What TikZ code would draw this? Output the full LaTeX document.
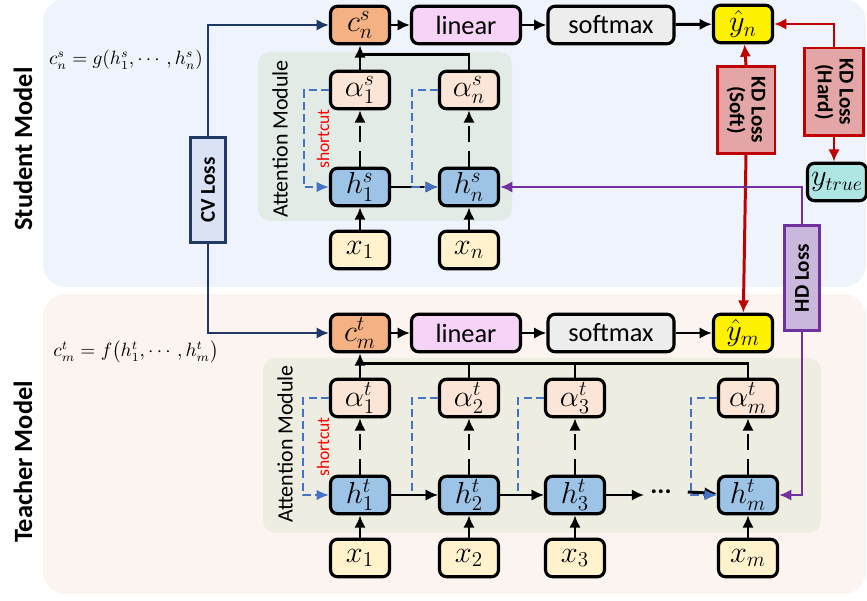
\documentclass[tikz,border=0pt]{standalone}
\usepackage{amssymb,amsmath}
\usepackage{fontspec}
\setmainfont{Carlito}
\usepackage{xcolor}
\usetikzlibrary{arrows.meta,positioning,calc}

\definecolor{stubg}{HTML}{EFF3FB}
\definecolor{teabg}{HTML}{FBF4F0}
\definecolor{attstu}{HTML}{E3EBE6}
\definecolor{atttea}{HTML}{EEEDE1}
\definecolor{cfill}{HTML}{F4B183}
\definecolor{linfill}{HTML}{F7D3F7}
\definecolor{softfill}{HTML}{EDEDED}
\definecolor{afill}{HTML}{FBE5D6}
\definecolor{hfill}{HTML}{9DC3E6}
\definecolor{xfill}{HTML}{FFF2CC}
\definecolor{truefill}{HTML}{AEE6E4}
\definecolor{cvfill}{HTML}{DAE3F3}
\definecolor{cvline}{HTML}{203864}
\definecolor{kdfill}{HTML}{E3A5A5}
\definecolor{kdline}{HTML}{C00000}
\definecolor{hdfill}{HTML}{C9B8DC}
\definecolor{hdline}{HTML}{7030A0}
\definecolor{scut}{HTML}{4472C4}

\tikzset{
  box/.style={draw=black, line width=1.8pt, rounded corners=4pt, inner sep=0pt,
    minimum width=1.18cm, minimum height=0.75cm, font=\fontsize{15}{17}\selectfont},
  mbox/.style={box, font=\fontsize{18}{20}\selectfont},
  lossbox/.style={line width=1.7pt, inner sep=0pt, align=center,
    font=\fontsize{12}{12.5}\selectfont\bfseries},
  arr/.style={line width=1.7pt, -{Latex[length=7pt,width=6.5pt]}},
  darr/.style={arr, dash pattern=on 9pt off 5pt},
  sarr/.style={scut, line width=1.1pt, dash pattern=on 4.5pt off 2.5pt, -{Latex[length=7pt,width=6pt]}},
  lbl/.style={font=\fontsize{12.5}{13}\selectfont, rotate=90},
}

\begin{document}
\begin{tikzpicture}[x=0.02cm, y=-0.02cm]
\useasboundingbox (0,0) rectangle (867,601);

% panels
\fill[stubg, rounded corners=0.45cm] (43,-1) rectangle (866,287);
\fill[teabg, rounded corners=0.45cm] (43,294) rectangle (866,594);
\fill[attstu, rounded corners=0.25cm] (258,52) rectangle (512,221);
\fill[atttea, rounded corners=0.25cm] (263,358) rectangle (821,533);

\node[rotate=90, font=\fontsize{15}{17}\selectfont\bfseries] (stu) at (23,149) {Student Model};
\node[rotate=90, font=\fontsize{15}{17}\selectfont\bfseries] (tea) at (23,462) {Teacher Model};
\node[font=\fontsize{10.5}{12}\selectfont] (fs) at (126,60) {$c_n^s = g(h_1^s,\cdots,h_n^s)$};
\node[font=\fontsize{10.5}{12}\selectfont] (ft) at (136,352) {$c_m^t = f\bigl(h_1^t,\cdots,h_m^t\bigr)$};
\node[lbl] (atts) at (280,139) {Attention Module};
\node[lbl] (attt) at (285,444) {Attention Module};
\node[lbl, red, font=\fontsize{10}{11}\selectfont] (shs) at (323,139) {shortcut};
\node[lbl, red, font=\fontsize{10}{11}\selectfont] (sht) at (323,447) {shortcut};

% student model
\node[mbox, fill=cfill] (cs) at (360,25) {$c_n^s$};
\node[box, fill=linfill, minimum width=2.18cm] (lins) at (466,25) {linear};
\node[box, fill=softfill, minimum width=2.52cm] (sms) at (611,25) {softmax};
\node[mbox, fill=yellow] (yn) at (743,24) {$\hat{y}_n$};
\node[mbox, fill=afill] (as1) at (360,90) {$\alpha_1^s$};
\node[mbox, fill=afill] (asn) at (469,90) {$\alpha_n^s$};
\node[mbox, fill=hfill] (hs1) at (360,187) {$h_1^s$};
\node[mbox, fill=hfill] (hsn) at (469,187) {$h_n^s$};
\node[mbox, fill=xfill] (xs1) at (360,250) {$x_1$};
\node[mbox, fill=xfill] (xsn) at (469,250) {$x_n$};
\node[box, fill=truefill, font=\fontsize{16}{18}\selectfont] (ytrue) at (837,182) {$y_{true}$};

% teacher model
\node[mbox, fill=cfill] (ct) at (360,333) {$c_m^t$};
\node[box, fill=linfill, minimum width=2.18cm] (lint) at (466,333) {linear};
\node[box, fill=softfill, minimum width=2.52cm] (smt) at (611,333) {softmax};
\node[mbox, fill=yellow] (ym) at (743,333) {$\hat{y}_m$};
\foreach \n/\x/\s in {1/360/1, 2/469/2, 3/575/3, m/748/m}
{
\node[mbox, fill=afill] (at\n) at (\x,398) {$\alpha_\s^t$};
\node[mbox, fill=hfill] (ht\n) at (\x,495) {$h_\s^t$};
\node[mbox, fill=xfill] (xt\n) at (\x,558) {$x_\s$};
}
\node[font=\fontsize{15}{17}\selectfont\bfseries] (dots) at (661,492) {...};

% losses
\node[lossbox, draw=cvline, fill=cvfill, rotate=90, minimum width=2.12cm, minimum height=0.7cm] (cv) at (208,190) {CV Loss};
\node[lossbox, draw=kdline, fill=kdfill, rotate=-90, minimum width=1.74cm, minimum height=1.16cm] (kds) at (746,110) {KD Loss\\(Soft)};
\node[lossbox, draw=kdline, fill=kdfill, rotate=-90, minimum width=1.76cm, minimum height=1.18cm] (kdh) at (834,92) {KD Loss\\(Hard)};
\node[lossbox, draw=hdline, fill=hdfill, rotate=90, minimum width=2.1cm, minimum height=0.7cm] (hd) at (802,278) {HD Loss};

% student connections
\draw[arr] (cs) -- (lins);
\draw[arr] (lins) -- (sms);
\draw[arr] (sms) -- (yn);
\draw[arr] (xs1) -- (hs1);
\draw[arr] (xsn) -- (hsn);
\draw[arr] (hs1) -- (hsn);
\draw[darr] (hs1) -- (as1);
\draw[darr] (hsn) -- (asn);
\draw[arr] (as1) -- (cs);
\draw[line width=1.7pt] (asn.north) -- ++(0,-15) -| (as1.north);
\draw[sarr] (as1.west) -- ++(-25,0) |- (hs1.west);
\draw[sarr] (asn.west) -- ++(-26,0) |- (hsn.west);

% teacher connections
\draw[arr] (ct) -- (lint);
\draw[arr] (lint) -- (smt);
\draw[arr] (smt) -- (ym);
\foreach \n in {1,2,3,m}
{
\draw[arr] (xt\n) -- (ht\n);
\draw[darr] (ht\n) -- (at\n);
\draw[sarr] (at\n.west) -- ++(-26,0) |- (ht\n.west);
}
\draw[arr] (at1) -- (ct);
\draw[line width=1.7pt] (atm.north) -- ++(0,-14) -| (at1.north);
\draw[line width=1.7pt] (at2.north) -- ++(0,-14);
\draw[line width=1.7pt] (at3.north) -- ++(0,-14);
\draw[arr] (ht1) -- (ht2);
\draw[arr] (ht2) -- (ht3);
\draw[arr] (ht3) -- ($(ht3.east)+(38,0)$);
\draw[arr] ($(dots.east)+(10,0)$) -- (htm);
\draw[sarr] (atm.west) -- ++(-26,0) |- (htm.west);

% loss connections
\draw[arr, cvline] (cv.east) |- (cs.west);
\draw[arr, cvline] (cv.west) |- (ct.west);
\draw[arr, kdline] (kds.west) -- (yn);
\draw[arr, kdline] (kds.east) -- (ym);
\draw[arr, kdline] (kdh.west) |- (yn.east);
\draw[arr, kdline] (kdh.east) -- (kdh.east |- ytrue.north);
\draw[arr, hdline] (hd.east) |- (hsn.east);
\draw[arr, hdline] (hd.west) |- (htm.east);
\end{tikzpicture}
\end{document}
